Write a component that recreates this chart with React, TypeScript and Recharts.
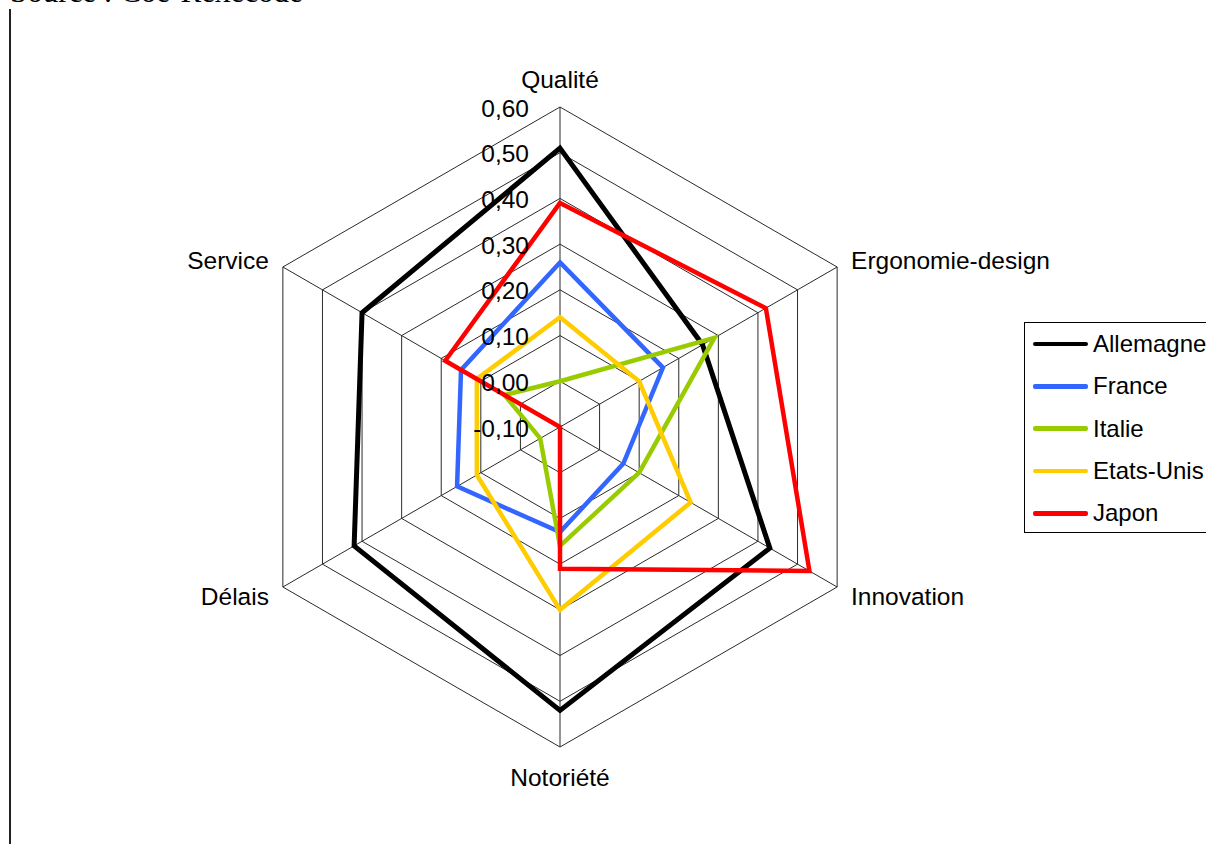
import { RadarChart, Radar, PolarGrid, PolarAngleAxis, PolarRadiusAxis } from "recharts"

const categories = ["Qualité", "Ergonomie-design", "Innovation", "Notoriété", "Délais", "Service"]

const allemagne = [0.51, 0.26, 0.43, 0.52, 0.42, 0.4]
const france = [0.26, 0.16, 0.06, 0.13, 0.16, 0.15]
const italie = [0.0, 0.29, 0.1, 0.16, -0.05, 0.04]
const etatsUnis = [0.14, 0.1, 0.23, 0.3, 0.11, 0.11]
const japon = [0.39, 0.42, 0.53, 0.21, -0.1, 0.19]

const radiusTicks = [-0.1, 0, 0.1, 0.2, 0.3, 0.4, 0.5, 0.6]

const SERIES = [
  { key: "allemagne", name: "Allemagne", color: "#000000", width: 5 },
  { key: "france", name: "France", color: "#3366FF", width: 4.5 },
  { key: "italie", name: "Italie", color: "#99CC00", width: 4.5 },
  { key: "etatsUnis", name: "Etats-Unis", color: "#FFCC00", width: 4.5 },
  { key: "japon", name: "Japon", color: "#FF0000", width: 4.5 },
]

const data = categories.map((c, i) => ({
  cat: c,
  allemagne: allemagne[i],
  france: france[i],
  italie: italie[i],
  etatsUnis: etatsUnis[i],
  japon: japon[i],
}))

const FONT = "'Liberation Sans', Arial, sans-serif"
const CX = 560
const CY = 427

const fmt = (v: number) => v.toFixed(2).replace(".", ",")

function AngleTick(props: any) {
  const { x, y, payload } = props
  let anchor = "middle"
  let dx = 0
  let dy = 0
  if (Math.abs(x - CX) < 2) {
    dy = y < CY ? -20 : 22
  } else {
    anchor = x > CX ? "start" : "end"
    dx = x > CX ? 7 : -7
    dy = y < CY ? -3 : 5
  }
  return (
    <text
      x={x + dx}
      y={y + dy}
      textAnchor={anchor}
      dominantBaseline="central"
      fontFamily={FONT}
      fontSize={24.5}
      fill="#000"
    >
      {payload.value}
    </text>
  )
}

function RadiusTick(props: any) {
  const { x, y, payload } = props
  return (
    <text
      x={x - 31}
      y={y + 1}
      textAnchor="end"
      dominantBaseline="central"
      fontFamily={FONT}
      fontSize={24.5}
      fill="#000"
    >
      {fmt(payload.value)}
    </text>
  )
}

function LegendBox() {
  return (
    <div
      style={{
        position: "absolute",
        left: 1024,
        top: 322,
        width: 200,
        height: 211,
        border: "1px solid #000",
        background: "#fff",
        boxSizing: "border-box",
        fontFamily: FONT,
        fontSize: 24,
      }}
    >
      {SERIES.map((s) => (
        <div key={s.key} style={{ display: "flex", alignItems: "center", height: 42.3, whiteSpace: "nowrap" }}>
          <div
            style={{
              marginLeft: 8,
              width: 55,
              height: 4.5,
              borderRadius: 2,
              background: s.color,
            }}
          />
          <span style={{ marginLeft: 5, color: "#000" }}>{s.name}</span>
        </div>
      ))}
    </div>
  )
}

export default function App() {
  return (
    <div style={{ position: "absolute", left: 0, top: 0, width: 1206, height: 844, overflow: "hidden", background: "#fff" }}>
      <div
        style={{
          position: "absolute",
          left: 10,
          top: -23,
          fontFamily: "'Liberation Serif', 'Times New Roman', serif",
          fontSize: 31,
          lineHeight: "30px",
          whiteSpace: "nowrap",
          color: "#000",
        }}
      >
        Source : Coe-Rexecode
      </div>
      <div style={{ position: "absolute", left: 9, top: 9, width: 2, height: 835, background: "#222" }} />
      <div style={{ position: "absolute", left: 0, top: 0 }}>
        <RadarChart width={1206} height={844} data={data} cx={CX} cy={CY} outerRadius={320} startAngle={90} endAngle={-270}>
          <PolarGrid gridType="polygon" stroke="#2a2a2a" strokeWidth={1} />
          <PolarAngleAxis dataKey="cat" tick={<AngleTick />} tickLine={false} axisLine={false} />
          <PolarRadiusAxis
            angle={90}
            domain={[-0.1, 0.6]}
            allowDataOverflow
            allowDecimals
            ticks={radiusTicks as any}
            tickCount={8}
            tick={<RadiusTick />}
            axisLine={false}
            tickLine={false}
            type="number"
          />
          {SERIES.map((s) => (
            <Radar
              key={s.key}
              dataKey={s.key}
              name={s.name}
              stroke={s.color}
              strokeWidth={s.width}
              fill="none"
              fillOpacity={0}
              dot={false}
              isAnimationActive={false}
            />
          ))}
        </RadarChart>
      </div>
      <LegendBox />
    </div>
  )
}
